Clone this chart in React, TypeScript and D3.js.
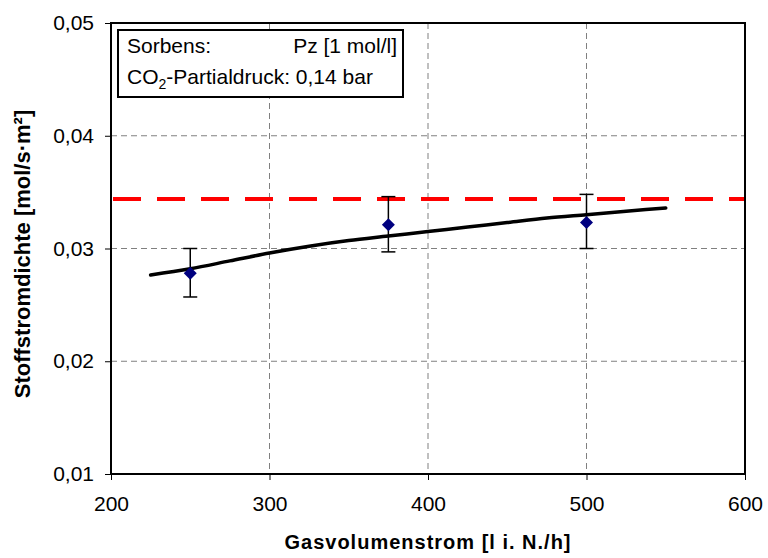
import React, { useEffect, useRef } from 'react'
import * as d3 from 'd3'

// measured points with error bars
const flowRates = [250, 375, 500]
const fluxValues = [0.0278, 0.0321, 0.0323]
const errLow = [0.0257, 0.0297, 0.0300]
const errHigh = [0.0300, 0.0346, 0.0348]

// model curve
const modelX = [225, 250, 275, 300, 325, 350, 375, 400, 425, 450, 475, 500, 525, 550]
const modelY = [0.02765, 0.0282, 0.0289, 0.0296, 0.0302, 0.0307, 0.0311, 0.0315, 0.0319, 0.0323, 0.0327, 0.0330, 0.0333, 0.0336]

// limit line
const limitFlux = 0.0344

const xTicks = [200, 300, 400, 500, 600]
const yTicks = [0.01, 0.02, 0.03, 0.04, 0.05]

const App = () => {
    const ref = useRef<SVGSVGElement>(null)

    useEffect(() => {
        const svg = d3.select(ref.current)
        svg.selectAll('*').remove()

        const left = 111, right = 745, top = 23, bottom = 474
        const x = d3.scaleLinear().domain([200, 600]).range([left, right])
        const y = d3.scaleLinear().domain([0.01, 0.05]).range([bottom, top])
        const fmt = (v: number) => d3.format('.2f')(v).replace('.', ',')
        const font = 'Arial, "Liberation Sans", sans-serif'

        // grid
        svg.append('g').selectAll('line')
            .data(xTicks.slice(1, -1))
            .join('line')
            .attr('x1', d => x(d)).attr('x2', d => x(d))
            .attr('y1', top).attr('y2', bottom)
            .attr('stroke', '#808080').attr('stroke-dasharray', '6,4')

        svg.append('g').selectAll('line')
            .data(yTicks.slice(1, -1))
            .join('line')
            .attr('x1', left).attr('x2', right)
            .attr('y1', d => y(d)).attr('y2', d => y(d))
            .attr('stroke', '#808080').attr('stroke-dasharray', '6,4')

        // axes
        const xAxis = svg.append('g')
            .attr('transform', `translate(0,${bottom})`)
            .call(d3.axisBottom(x).tickValues(xTicks).tickSize(6).tickPadding(16).tickFormat(d3.format('d')))
        xAxis.select('.domain').remove()
        xAxis.selectAll('text').style('font-size', '21px').style('font-family', font).attr('fill', '#000')

        const yAxis = svg.append('g')
            .attr('transform', `translate(${left},0)`)
            .call(d3.axisLeft(y).tickValues(yTicks).tickSize(6).tickPadding(11).tickFormat(d => fmt(d as number)))
        yAxis.select('.domain').remove()
        yAxis.selectAll('text').style('font-size', '21px').style('font-family', font).attr('fill', '#000')

        // limit line
        svg.append('line')
            .attr('x1', left + 2).attr('x2', right)
            .attr('y1', y(limitFlux)).attr('y2', y(limitFlux))
            .attr('stroke', '#ff0000').attr('stroke-width', 4)
            .attr('stroke-dasharray', '28,16')

        // model curve
        const line = d3.line<number>()
            .x((d, i) => x(modelX[i]))
            .y(d => y(d))
            .curve(d3.curveMonotoneX)
        svg.append('path')
            .datum(modelY)
            .attr('fill', 'none')
            .attr('stroke', '#000')
            .attr('stroke-width', 3.5)
            .attr('stroke-linecap', 'round')
            .attr('d', line)

        // error bars
        const eb = svg.append('g').selectAll('g')
            .data(flowRates)
            .join('g')
        eb.append('line')
            .attr('x1', d => x(d)).attr('x2', d => x(d))
            .attr('y1', (d, i) => y(errLow[i])).attr('y2', (d, i) => y(errHigh[i]))
            .attr('stroke', '#000').attr('stroke-width', 1.5)
        eb.append('line')
            .attr('x1', d => x(d) - 7).attr('x2', d => x(d) + 7)
            .attr('y1', (d, i) => y(errLow[i])).attr('y2', (d, i) => y(errLow[i]))
            .attr('stroke', '#000').attr('stroke-width', 1.5)
        eb.append('line')
            .attr('x1', d => x(d) - 7).attr('x2', d => x(d) + 7)
            .attr('y1', (d, i) => y(errHigh[i])).attr('y2', (d, i) => y(errHigh[i]))
            .attr('stroke', '#000').attr('stroke-width', 1.5)

        // diamonds
        svg.append('g').selectAll('path')
            .data(flowRates)
            .join('path')
            .attr('transform', (d, i) => `translate(${x(d)},${y(fluxValues[i])})`)
            .attr('d', 'M0,-6.5L6.5,0L0,6.5L-6.5,0Z')
            .attr('fill', '#000080')

        // plot frame
        svg.append('rect')
            .attr('x', left).attr('y', top)
            .attr('width', right - left).attr('height', bottom - top)
            .attr('fill', 'none').attr('stroke', '#000').attr('stroke-width', 2)

        // info box
        svg.append('rect')
            .attr('x', 118).attr('y', 30).attr('width', 285).attr('height', 67)
            .attr('fill', '#fff').attr('stroke', '#000').attr('stroke-width', 2)
        svg.append('text').attr('x', 127).attr('y', 53)
            .style('font-family', font).style('font-size', '21px').text('Sorbens:')
        svg.append('text').attr('x', 397).attr('y', 53).attr('text-anchor', 'end')
            .style('font-family', font).style('font-size', '21px').text('Pz [1 mol/l]')
        const t = svg.append('text').attr('x', 127).attr('y', 84)
            .style('font-family', font).style('font-size', '21px')
        t.append('tspan').text('CO')
        t.append('tspan').attr('dy', 5).style('font-size', '14px').text('2')
        t.append('tspan').attr('dy', -5).text('-Partialdruck: 0,14 bar')

        // axis titles
        svg.append('text')
            .attr('x', 428).attr('y', 549)
            .attr('text-anchor', 'middle')
            .style('font-family', font).style('font-size', '20px').style('font-weight', 'bold')
            .style('letter-spacing', '1px')
            .text('Gasvolumenstrom [l i. N./h]')

        svg.append('text')
            .attr('transform', `translate(30,254) rotate(-90)`)
            .attr('text-anchor', 'middle')
            .style('font-family', font).style('font-size', '22px').style('font-weight', 'bold')
            .text('Stoffstromdichte [mol/s·m²]')
    }, [])

    return (
        <svg ref={ref} width={768} height={558}
            style={{ position: 'absolute', left: 0, top: 0, background: '#fff' }} />
    )
}

export default App
